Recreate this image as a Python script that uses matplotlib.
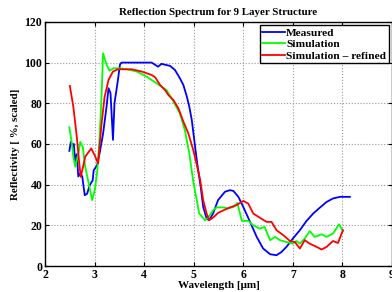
import numpy as np
import matplotlib
matplotlib.use("Agg")
import matplotlib.pyplot as plt

plt.rcParams['font.family'] = ['Liberation Serif', 'DejaVu Serif']
plt.rcParams['font.weight'] = 'bold'

# measured spectrum
wl_meas = [2.49, 2.52, 2.55, 2.58, 2.61, 2.64, 2.67, 2.71, 2.75, 2.80, 2.85, 2.89,
           2.93, 2.96, 2.98, 3.05, 3.10, 3.17, 3.24, 3.28, 3.32, 3.37, 3.40, 3.44,
           3.47, 3.51, 3.54, 3.70, 3.90, 4.15, 4.22, 4.28, 4.35, 4.41, 4.52, 4.62,
           4.72, 4.79, 4.86, 4.91, 4.96, 5.02, 5.07, 5.14, 5.19, 5.26, 5.31, 5.39,
           5.49, 5.63, 5.73, 5.80, 5.90, 6.00, 6.13, 6.27, 6.40, 6.54, 6.67, 6.77,
           6.87, 7.00, 7.14, 7.27, 7.41, 7.54, 7.68, 7.81, 7.95, 8.15]
refl_meas = [56.6, 61.0, 59.5, 60.0, 50.5, 55.0, 44.0, 45.6, 44.0, 34.8, 35.6, 39.0,
             41.0, 42.0, 47.0, 49.6, 55.4, 65.0, 78.3, 87.4, 85.0, 62.0, 80.0, 86.5,
             91.5, 98.9, 100.0, 100.0, 100.0, 100.0, 98.9, 98.0, 99.4, 99.0, 98.4, 96.4,
             92.3, 89.0, 83.3, 78.3, 71.8, 60.0, 50.4, 38.9, 29.0, 23.3, 22.5, 25.8,
             32.4, 36.5, 37.3, 36.9, 34.0, 29.0, 22.0, 14.3, 8.6, 5.8, 5.3, 6.9,
             9.4, 13.5, 17.6, 22.0, 25.8, 28.6, 31.5, 33.2, 34.0, 34.0]

# simulation
wl_sim = [2.49, 2.54, 2.57, 2.61, 2.68, 2.71, 2.76, 2.81, 2.88, 2.95, 3.00, 3.05,
          3.10, 3.14, 3.17, 3.24, 3.30, 3.38, 3.51, 3.65, 3.85, 4.05, 4.25, 4.45,
          4.59, 4.72, 4.82, 4.91, 4.99, 5.06, 5.11, 5.23, 5.29, 5.39, 5.46, 5.60,
          5.69, 5.80, 5.88, 5.97, 6.10, 6.20, 6.33, 6.43, 6.54, 6.64, 6.74, 6.87,
          7.00, 7.07, 7.14, 7.24, 7.34, 7.44, 7.58, 7.68, 7.81, 7.93, 8.01]
refl_sim = [68.2, 60.3, 53.7, 48.8, 56.2, 61.0, 58.6, 48.8, 40.6, 32.4, 37.0, 46.0,
            63.0, 84.0, 104.6, 99.0, 96.0, 97.2, 97.2, 96.7, 95.6, 93.1, 89.8, 86.5,
            80.8, 75.0, 66.8, 55.4, 41.5, 32.4, 25.8, 22.5, 23.8, 27.4, 28.8, 28.8,
            28.3, 29.0, 31.0, 22.2, 22.2, 20.0, 18.4, 19.2, 12.7, 14.3, 12.7, 11.8,
            11.0, 12.3, 11.0, 13.5, 17.2, 14.3, 15.6, 14.3, 16.0, 20.5, 17.2]

# refined simulation
wl_ref = [2.50, 2.57, 2.64, 2.69, 2.72, 2.75, 2.81, 2.93, 3.00, 3.07, 3.14, 3.20,
          3.28, 3.37, 3.47, 3.61, 3.75, 3.95, 4.15, 4.22, 4.32, 4.42, 4.49, 4.59,
          4.69, 4.79, 4.89, 4.99, 5.07, 5.13, 5.19, 5.26, 5.31, 5.39, 5.49, 5.60,
          5.73, 5.86, 6.00, 6.10, 6.20, 6.33, 6.47, 6.57, 6.67, 6.81, 6.94, 7.04,
          7.14, 7.24, 7.34, 7.48, 7.58, 7.68, 7.81, 7.91, 8.01]
refl_ref = [88.5, 78.3, 63.5, 50.4, 43.8, 47.0, 53.7, 57.8, 54.5, 50.4, 70.0, 83.0,
            91.5, 95.6, 96.7, 96.7, 96.7, 95.6, 93.9, 92.8, 89.0, 86.5, 84.0, 81.6,
            77.5, 71.0, 65.2, 57.0, 48.8, 42.2, 32.4, 25.8, 22.5, 23.8, 26.1, 27.4,
            28.8, 29.9, 32.0, 30.7, 25.8, 23.8, 21.7, 21.7, 17.6, 15.1, 12.3, 11.8,
            8.6, 12.7, 11.0, 9.4, 8.1, 9.4, 12.3, 11.3, 17.6]

fig = plt.figure(figsize=(3.92, 2.92), dpi=100)
ax = fig.add_axes([0.115, 0.089, 0.885, 0.836])

ax.plot(wl_meas, refl_meas, color=(0, 0, 1), lw=1.3, label="Measured")
ax.plot(wl_sim, refl_sim, color=(0, 1, 0), lw=1.3, label="Simulation")
ax.plot(wl_ref, refl_ref, color=(1, 0, 0), lw=1.3, label="Simulation \u2013 refined")

ax.set_xlim(2, 9)
ax.set_ylim(0, 120)
ax.set_xticks(np.arange(2, 10, 1))
ax.set_yticks(np.arange(0, 121, 20))
ax.tick_params(direction='in', length=3, labelsize=8.5, top=True, right=True, pad=2)
for lab in ax.get_xticklabels() + ax.get_yticklabels():
    lab.set_fontweight('bold')
ax.grid(True, linestyle=':', color='#999999', linewidth=0.8)
for s in ax.spines.values():
    s.set_linewidth(1.0)

ax.set_xlabel("Wavelength [\u03bcm]", fontsize=8, fontweight='bold', labelpad=0)
ax.set_ylabel("Reflectivity [ %, scaled]", fontsize=7.8, fontweight='bold', labelpad=3)
ax.set_title("Reflection Spectrum for 9 Layer Structure", fontsize=7.8,
             fontweight='bold', pad=5)

leg = ax.legend(loc='upper right', fontsize=8.2, handlelength=2.0, handletextpad=0.1,
                borderpad=0.2, labelspacing=0.15, fancybox=False, framealpha=1,
                borderaxespad=0.3)
leg.get_frame().set_edgecolor('black')
leg.get_frame().set_linewidth(1.0)

fig.savefig("out.png", dpi=100)
